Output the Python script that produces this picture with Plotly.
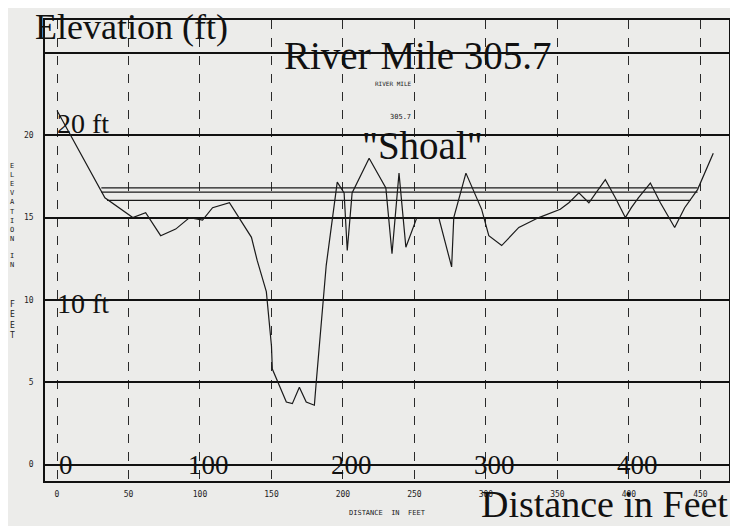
import plotly.graph_objects as go

# ---- data read from the scanned profile ----
distance_ft = [0, 33.5, 53, 62, 72.5, 83, 92.7, 101.8, 108.8, 120.6, 136, 140, 146.4, 150, 150.6,
               160.4, 164.6, 169.5, 174.3, 180, 181.3, 188.3, 196, 200.8, 203, 206.4, 218.3, 230,
               234.3, 239.2, 244, 251.7, 267, 276, 277.5, 286, 297, 302, 311, 323, 337, 352, 358,
               365, 372, 383.5, 390.5, 397.5, 401.7, 406.6, 415, 422, 432, 439, 448, 459]
elevation_ft = [21.5, 16.2, 15.0, 15.3, 13.9, 14.3, 15.0, 14.85, 15.6, 15.9, 13.8, 12.4, 10.5, 7.2, 5.8,
                3.8, 3.7, 4.7, 3.8, 3.6, 5.0, 12.1, 17.15, 16.5, 13.0, 16.5, 18.6, 16.8,
                12.8, 17.7, 13.2, 15.0, 15.0, 12.0, 15.0, 17.7, 15.5, 13.9, 13.3, 14.4, 15.0, 15.5, 15.9,
                16.5, 15.9, 17.3, 16.2, 15.0, 15.6, 16.2, 17.1, 15.9, 14.4, 15.6, 16.7, 18.9]

water_levels = [16.8, 16.55, 16.05]
water_start = [31, 31, 35]
water_end = [448, 448, 443]

x_ticks = [0, 50, 100, 150, 200, 250, 300, 350, 400, 450]
y_ticks = [0, 5, 10, 15, 20, 25]
y_tick_text = ["0", "5", "10", "15", "20", ""]
overlay_x_labels = [0, 100, 200, 300, 400]

BG = "#ececea"
SERIF = "Liberation Serif"
MONO = "DejaVu Sans Mono"

fig = go.Figure()

for lvl, xs, xe in zip(water_levels, water_start, water_end):
    fig.add_trace(go.Scatter(x=[xs, xe], y=[lvl, lvl], mode="lines",
                             line=dict(color="#1a1a1a", width=1.3),
                             showlegend=False, hoverinfo="skip"))

fig.add_trace(go.Scatter(x=distance_ft, y=elevation_ft, mode="lines",
                         line=dict(color="#1a1a1a", width=1.2),
                         showlegend=False))

annotations = []
# hand-written overlay labels
for v in overlay_x_labels:
    annotations.append(dict(x=v, y=0, xref="x", yref="y", text=str(v), showarrow=False,
                            xanchor="center", yanchor="middle", xshift=9,
                            font=dict(family=SERIF, size=27, color="#111")))
annotations += [
    dict(x=-0.0175, y=1.032, xref="paper", yref="paper", text="Elevation (ft)", showarrow=False,
         xanchor="left", yanchor="top", font=dict(family=SERIF, size=36, color="#111")),
    dict(x=0.346, y=0.922, xref="paper", yref="paper", text="River Mile 305.7", showarrow=False,
         xanchor="left", yanchor="middle", font=dict(family=SERIF, size=39, color="#111")),
    dict(x=0.460, y=0.727, xref="paper", yref="paper", text="\"Shoal\"", showarrow=False,
         xanchor="left", yanchor="middle", font=dict(family=SERIF, size=39, color="#111")),
    dict(x=1.0015, y=-0.05, xref="paper", yref="paper", text="Distance in Feet", showarrow=False,
         xanchor="right", yanchor="middle", font=dict(family=SERIF, size=38, color="#111")),
    dict(x=0, y=20, xref="x", yref="y", text="20 ft", showarrow=False,
         xanchor="left", yanchor="middle", yshift=12, xshift=-2,
         font=dict(family=SERIF, size=28, color="#111")),
    dict(x=0, y=10, xref="x", yref="y", text="10 ft", showarrow=False,
         xanchor="left", yanchor="middle", yshift=-4, xshift=-2,
         font=dict(family=SERIF, size=28, color="#111")),
    dict(x=0.510, y=0.863, xref="paper", yref="paper", text="RIVER MILE", showarrow=False,
         xanchor="center", yanchor="middle", font=dict(family=MONO, size=6, color="#222")),
    dict(x=0.520, y=0.790, xref="paper", yref="paper", text="305.7", showarrow=False,
         xanchor="center", yanchor="middle", font=dict(family=MONO, size=7, color="#222")),
    dict(x=0.5, y=-0.07, xref="paper", yref="paper", text="DISTANCE  IN  FEET", showarrow=False,
         xanchor="center", yanchor="middle", font=dict(family=MONO, size=7, color="#222")),
    dict(x=-0.048, y=0.605, xref="paper", yref="paper",
         text="<br>".join("ELEVATION"), showarrow=False,
         xanchor="center", yanchor="middle", font=dict(family=MONO, size=7, color="#222")),
    dict(x=-0.048, y=0.478, xref="paper", yref="paper",
         text="<br>".join("IN"), showarrow=False,
         xanchor="center", yanchor="middle", font=dict(family=MONO, size=7, color="#222")),
    dict(x=-0.048, y=0.35, xref="paper", yref="paper",
         text="<br>".join("FEET"), showarrow=False,
         xanchor="center", yanchor="middle", font=dict(family=MONO, size=8, color="#222")),
]

# the page has an 8px body margin, so the figure is shifted by 8px; margins compensate
fig.update_layout(
    width=730, height=518,
    margin=dict(l=37, r=7, t=12, b=45),
    paper_bgcolor=BG, plot_bgcolor=BG,
    annotations=annotations,
    xaxis=dict(range=[-8.4, 470], tickvals=x_ticks, ticktext=[str(v) for v in x_ticks],
               showgrid=True, gridcolor="#2a2a2a", gridwidth=1, griddash="dash",
               zeroline=False, showline=True, linecolor="#111", linewidth=1.5, mirror=True,
               ticks="", ticklabelstandoff=5, tickfont=dict(family=MONO, size=8, color="#222")),
    yaxis=dict(range=[-1, 27], tickvals=y_ticks, ticktext=y_tick_text,
               showgrid=True, gridcolor="#111", gridwidth=1.6,
               zeroline=False, showline=True, linecolor="#111", linewidth=1.5, mirror=True,
               ticks="", ticklabelstandoff=8, tickfont=dict(family=MONO, size=8, color="#222")),
)

fig.write_html("out.html")
